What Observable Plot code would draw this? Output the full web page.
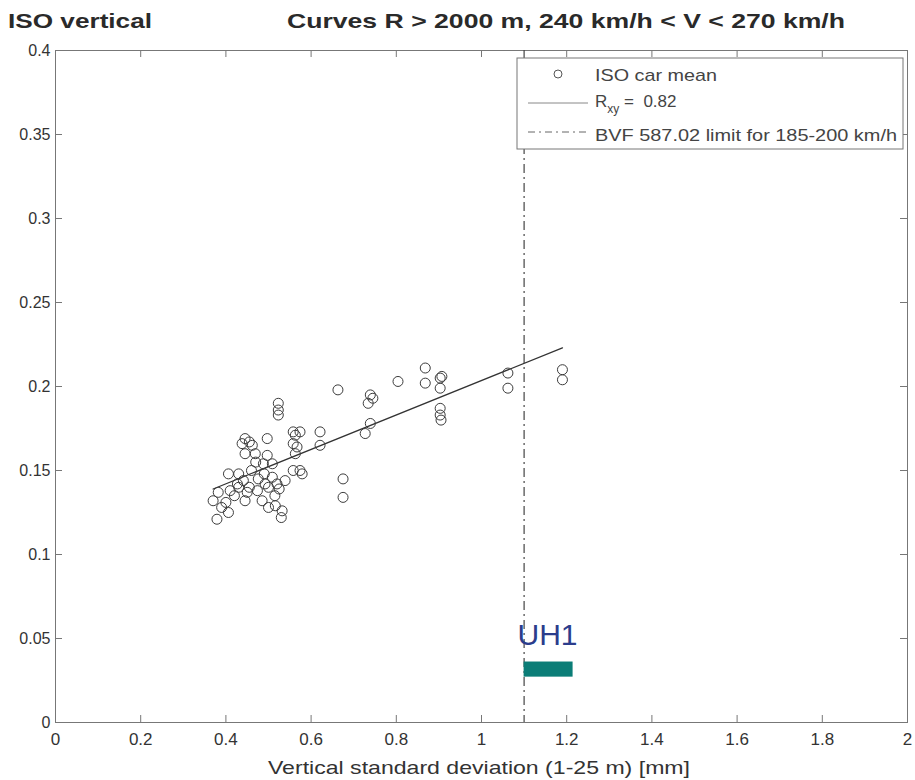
<!DOCTYPE html>
<html>
<head>
<meta charset="utf-8">
<script src="https://cdn.jsdelivr.net/npm/d3@7"></script>
<script src="https://cdn.jsdelivr.net/npm/@observablehq/plot@0.6"></script>
<style>
  body { margin: 0; background: #fff; }
  #chart { position: relative; width: 915px; height: 780px; }
</style>
</head>
<body>
<div id="chart"></div>
<script>
// ---- data ----
const isoX = [0.379,0.406,0.370,0.400,0.382,0.410,0.427,0.406,0.430,0.441,0.450,0.445,0.474,0.485,0.500,0.516,0.532,0.530,0.539,0.520,
  0.509,0.492,0.476,0.438,0.462,0.445,0.469,0.497,0.488,0.509,0.497,0.445,0.455,0.523,0.523,0.523,0.558,0.574,0.621,0.621,
  0.558,0.563,0.558,0.574,0.675,0.675,0.727,0.739,0.663,0.739,0.734,0.745,0.804,0.868,0.868,0.903,0.907,0.903,0.903,0.903,
  0.905,1.062,1.062,1.190,1.190,0.563,0.567,0.579,0.420,0.430,0.460,0.470,0.500,0.515,0.390,0.455,0.490,0.525];
const isoY = [0.121,0.125,0.132,0.131,0.137,0.138,0.142,0.148,0.148,0.144,0.137,0.132,0.138,0.132,0.128,0.129,0.126,0.122,0.144,0.142,
  0.146,0.142,0.145,0.166,0.165,0.160,0.160,0.159,0.154,0.154,0.169,0.169,0.167,0.190,0.186,0.183,0.173,0.173,0.173,0.165,
  0.166,0.160,0.150,0.150,0.145,0.134,0.172,0.178,0.198,0.195,0.190,0.193,0.203,0.211,0.202,0.205,0.206,0.199,0.187,0.183,
  0.180,0.208,0.199,0.210,0.204,0.171,0.164,0.148,0.135,0.140,0.150,0.155,0.140,0.135,0.128,0.140,0.148,0.139];
const fitX = [0.37, 1.19];
const fitY = [0.139, 0.223];
const limitX = 1.1;
const uhBar = {x1: 1.1, x2: 1.215, y1: 0.027, y2: 0.036};
const uhLabel = {x: 1.155, y: 0.052, text: "UH1"};
const xTicks = [0, 0.2, 0.4, 0.6, 0.8, 1, 1.2, 1.4, 1.6, 1.8, 2];
const yTicks = [0, 0.05, 0.1, 0.15, 0.2, 0.25, 0.3, 0.35, 0.4];
const titleLeft = "ISO vertical";
const titleMain = "Curves R > 2000 m, 240 km/h < V < 270 km/h";
const xLabel = "Vertical standard deviation (1-25 m) [mm]";
const legendItems = ["ISO car mean", "=  0.82", "BVF 587.02 limit for 185-200 km/h"];

const points = isoX.map((x, i) => ({x, y: isoY[i]}));
const fit = fitX.map((x, i) => ({x, y: fitY[i]}));

const W = 915, H = 780;
const mL = 55, mR = 8, mT = 50, mB = 58;
const fw = W - mL - mR, fh = H - mT - mB;
const ink = "#3a3a3a";
const font = "Liberation Sans, Arial, Helvetica, sans-serif";

const plot = Plot.plot({
  width: W, height: H,
  marginLeft: mL, marginRight: mR, marginTop: mT, marginBottom: mB,
  x: {domain: [0, 2]},
  y: {domain: [0, 0.4]},
  style: {fontFamily: font, color: ink, background: "#fff"},
  marks: [
    Plot.frame({stroke: "#777", strokeWidth: 1}),
    Plot.tickX(xTicks.slice(1, -1), {x: d => d, insetTop: fh - 7, stroke: "#777"}),
    Plot.tickX(xTicks.slice(1, -1), {x: d => d, insetBottom: fh - 7, stroke: "#777"}),
    Plot.tickY(yTicks.slice(1, -1), {y: d => d, insetRight: fw - 7, stroke: "#777"}),
    Plot.tickY(yTicks.slice(1, -1), {y: d => d, insetLeft: fw - 7, stroke: "#777"}),
    Plot.axisX({ticks: xTicks, tickSize: 0, tickPadding: 10, tickFormat: d => String(d), fontSize: 17, label: null, fill: "#333"}),
    Plot.axisY({ticks: yTicks, tickSize: 0, tickPadding: 5, tickFormat: d => String(d), fontSize: 16, label: null, fill: "#333"}),
    Plot.ruleX([limitX], {x: d => d, stroke: "#444", strokeWidth: 1.2, strokeDasharray: "9,4,2,4"}),
    Plot.line(fit, {x: "x", y: "y", stroke: "#333", strokeWidth: 1.3}),
    Plot.dot(points, {x: "x", y: "y", r: 5, stroke: "#3c3c3c", strokeWidth: 1, fill: "none"}),
    Plot.rect([uhBar], {x1: "x1", x2: "x2", y1: "y1", y2: "y2", fill: "#0b7d77"}),
    Plot.text([uhLabel], {x: "x", y: "y", text: "text", fontSize: 30, fill: "#2b3d8c", textAnchor: "middle"})
  ]
});

const svg = d3.select(plot);
// titles
svg.append("text").attr("x", 8).attr("y", 28).attr("text-anchor", "start")
  .attr("textLength", 144).attr("lengthAdjust", "spacingAndGlyphs")
  .attr("font-family", font).attr("font-size", 21).attr("font-weight", "bold").attr("fill", "#2a2a2a").text(titleLeft);
svg.append("text").attr("x", 287).attr("y", 28).attr("text-anchor", "start")
  .attr("textLength", 558).attr("lengthAdjust", "spacingAndGlyphs")
  .attr("font-family", font).attr("font-size", 21).attr("font-weight", "bold").attr("fill", "#2a2a2a").text(titleMain);
// x axis label
svg.append("text").attr("x", 268).attr("y", 774).attr("text-anchor", "start")
  .attr("textLength", 422).attr("lengthAdjust", "spacingAndGlyphs")
  .attr("font-family", font).attr("font-size", 19).attr("fill", "#333").text(xLabel);

// legend box
const lg = svg.append("g").attr("font-family", font).attr("font-size", 17).attr("fill", "#444").attr("text-anchor", "start");
lg.append("rect").attr("x", 517).attr("y", 58).attr("width", 386).attr("height", 91)
  .attr("fill", "#fff").attr("stroke", "#777");
lg.append("circle").attr("cx", 558).attr("cy", 74).attr("r", 4).attr("fill", "none").attr("stroke", "#555");
lg.append("text").attr("x", 595).attr("y", 81).attr("textLength", 122).attr("lengthAdjust", "spacingAndGlyphs").text(legendItems[0]);
lg.append("line").attr("x1", 528).attr("x2", 588).attr("y1", 103).attr("y2", 103).attr("stroke", "#888");
const rt = lg.append("text").attr("x", 595).attr("y", 107);
rt.append("tspan").text("R");
rt.append("tspan").attr("font-size", 12).attr("dy", 6).text("xy");
rt.append("tspan").attr("dy", -6).style("white-space", "pre").text(" " + legendItems[1]);
lg.append("line").attr("x1", 528).attr("x2", 588).attr("y1", 132).attr("y2", 132).attr("stroke", "#666")
  .attr("stroke-dasharray", "7,4,2,4");
lg.append("text").attr("x", 595).attr("y", 141).attr("textLength", 302).attr("lengthAdjust", "spacingAndGlyphs").text(legendItems[2]);

document.getElementById("chart").appendChild(plot);
</script>
</body>
</html>
